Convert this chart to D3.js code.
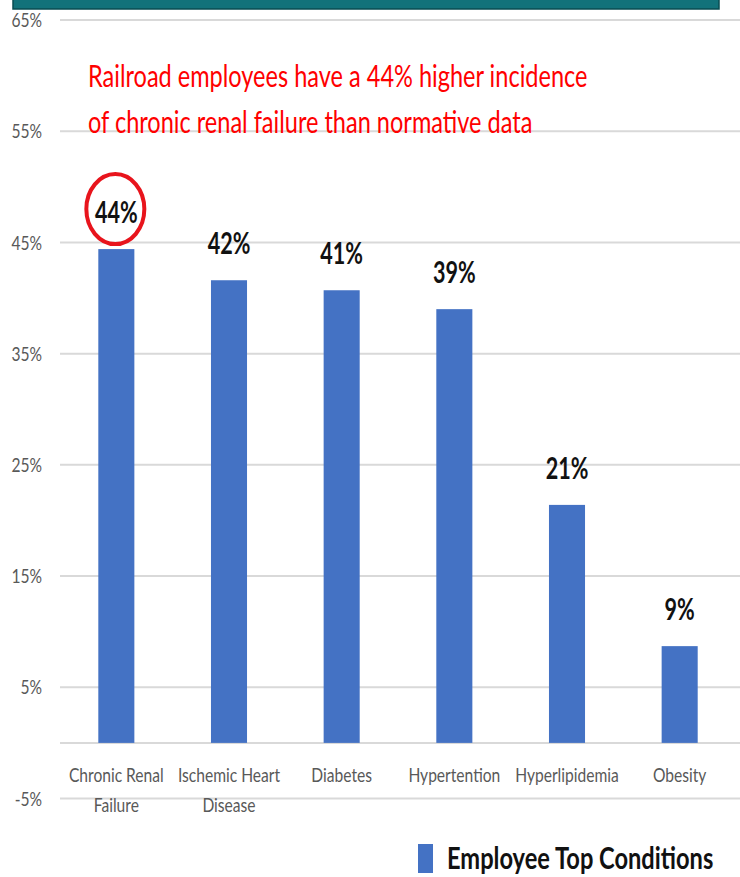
<!DOCTYPE html>
<html>
<head>
<meta charset="utf-8">
<script src="https://cdn.jsdelivr.net/npm/d3@7"></script>
<style>
  html, body { margin: 0; padding: 0; background: #ffffff; }
  svg { display: block; }
  text { font-family: Lato, "Open Sans", "Noto Sans", sans-serif; }
</style>
</head>
<body>
<svg id="chart" width="740" height="877"></svg>
<script>
// Share of employees with each condition (percent)
const categories = ["Chronic Renal Failure", "Ischemic Heart Disease", "Diabetes", "Hypertention", "Hyperlipidemia", "Obesity"];
const values = [44.4, 41.6, 40.7, 39.0, 21.4, 8.7];
const yTicks = [-5, 5, 15, 25, 35, 45, 55, 65];
const seriesName = "Employee Top Conditions";
const titleLines = ["Railroad employees have a 44% higher incidence", "of chronic renal failure than normative data"];

const W = 740, H = 877;
const svg = d3.select("#chart");

// condense a text horizontally by factor sx about its anchor x
function condense(node, sx) {
  const ax = +node.getAttribute("x");
  node.setAttribute("transform", `translate(${ax},0) scale(${sx},1) translate(${-ax},0)`);
}

// header band
svg.append("rect").attr("x", 13).attr("y", -2).attr("width", 706).attr("height", 11)
  .attr("fill", "#12727a").attr("stroke", "#0a4c52").attr("stroke-width", 1.5);

const x = d3.scaleBand().domain(categories).range([60, 736]).paddingInner(0.68).paddingOuter(0.34);
const y = d3.scaleLinear().domain([-5, 65]).range([798.5, 20]);

// gridlines
svg.append("g").selectAll("line").data(yTicks).join("line")
  .attr("x1", 60).attr("x2", W)
  .attr("y1", d => y(d)).attr("y2", d => y(d))
  .attr("stroke", "#d9d9d9").attr("stroke-width", 2);

// y tick labels
svg.append("g").selectAll("text").data(yTicks).join("text")
  .attr("x", 42).attr("y", d => y(d)).attr("dy", "0.36em")
  .attr("text-anchor", "end").attr("font-size", 20).attr("fill", "#595959")
  .text(d => d + "%")
  .each(function () { condense(this, 0.78); });

// category axis line at zero
svg.append("line").attr("x1", 60).attr("x2", W).attr("y1", y(0)).attr("y2", y(0))
  .attr("stroke", "#d9d9d9").attr("stroke-width", 2);

// bars
const data = categories.map((c, i) => ({ c, v: values[i] }));
svg.append("g").selectAll("rect").data(data).join("rect")
  .attr("x", d => x(d.c)).attr("width", x.bandwidth())
  .attr("y", d => y(d.v)).attr("height", d => y(0) - y(d.v))
  .attr("fill", "#4472c4");

// value labels
svg.append("g").selectAll("text").data(data).join("text")
  .attr("x", d => x(d.c) + x.bandwidth() / 2).attr("y", d => y(d.v) - 26)
  .attr("text-anchor", "middle").attr("font-size", 30).attr("font-weight", "bold").attr("fill", "#111")
  .text(d => Math.round(d.v) + "%")
  .each(function () { condense(this, 0.72); });

// highlight ring around the leading value
const lead = data[0];
svg.append("ellipse")
  .attr("cx", x(lead.c) + x.bandwidth() / 2 - 1).attr("cy", y(lead.v) - 40)
  .attr("rx", 29).attr("ry", 35)
  .attr("fill", "none").attr("stroke", "#e8141c").attr("stroke-width", 4);

// category labels, wrapped to the band step
const SX_CAT = 0.8;
const catG = svg.append("g");
data.forEach(d => {
  const cx = x(d.c) + x.bandwidth() / 2;
  const t = catG.append("text")
    .attr("x", cx).attr("y", 782)
    .attr("text-anchor", "middle").attr("font-size", 19.5).attr("fill", "#595959");
  const words = d.c.split(" ");
  let line = [];
  let tspan = t.append("tspan").attr("x", cx).attr("dy", 0);
  words.forEach(w => {
    line.push(w);
    tspan.text(line.join(" "));
    if (tspan.node().getComputedTextLength() * SX_CAT > x.step() - 6 && line.length > 1) {
      line.pop();
      tspan.text(line.join(" "));
      line = [w];
      tspan = t.append("tspan").attr("x", cx).attr("dy", 30).text(w);
    }
  });
  condense(t.node(), SX_CAT);
});

// annotation
svg.append("g").selectAll("text").data(titleLines).join("text")
  .attr("x", 88).attr("y", (d, i) => 87 + i * 46)
  .attr("font-size", 30).attr("fill", "#ff0000")
  .text(d => d)
  .each(function () { condense(this, 0.785); });

// legend
svg.append("rect").attr("x", 418).attr("y", 844).attr("width", 15).attr("height", 29).attr("fill", "#4472c4");
svg.append("text")
  .attr("x", 447).attr("y", 869)
  .attr("font-size", 31).attr("font-weight", "bold").attr("fill", "#111")
  .text(seriesName)
  .each(function () { condense(this, 0.763); });
</script>
</body>
</html>
